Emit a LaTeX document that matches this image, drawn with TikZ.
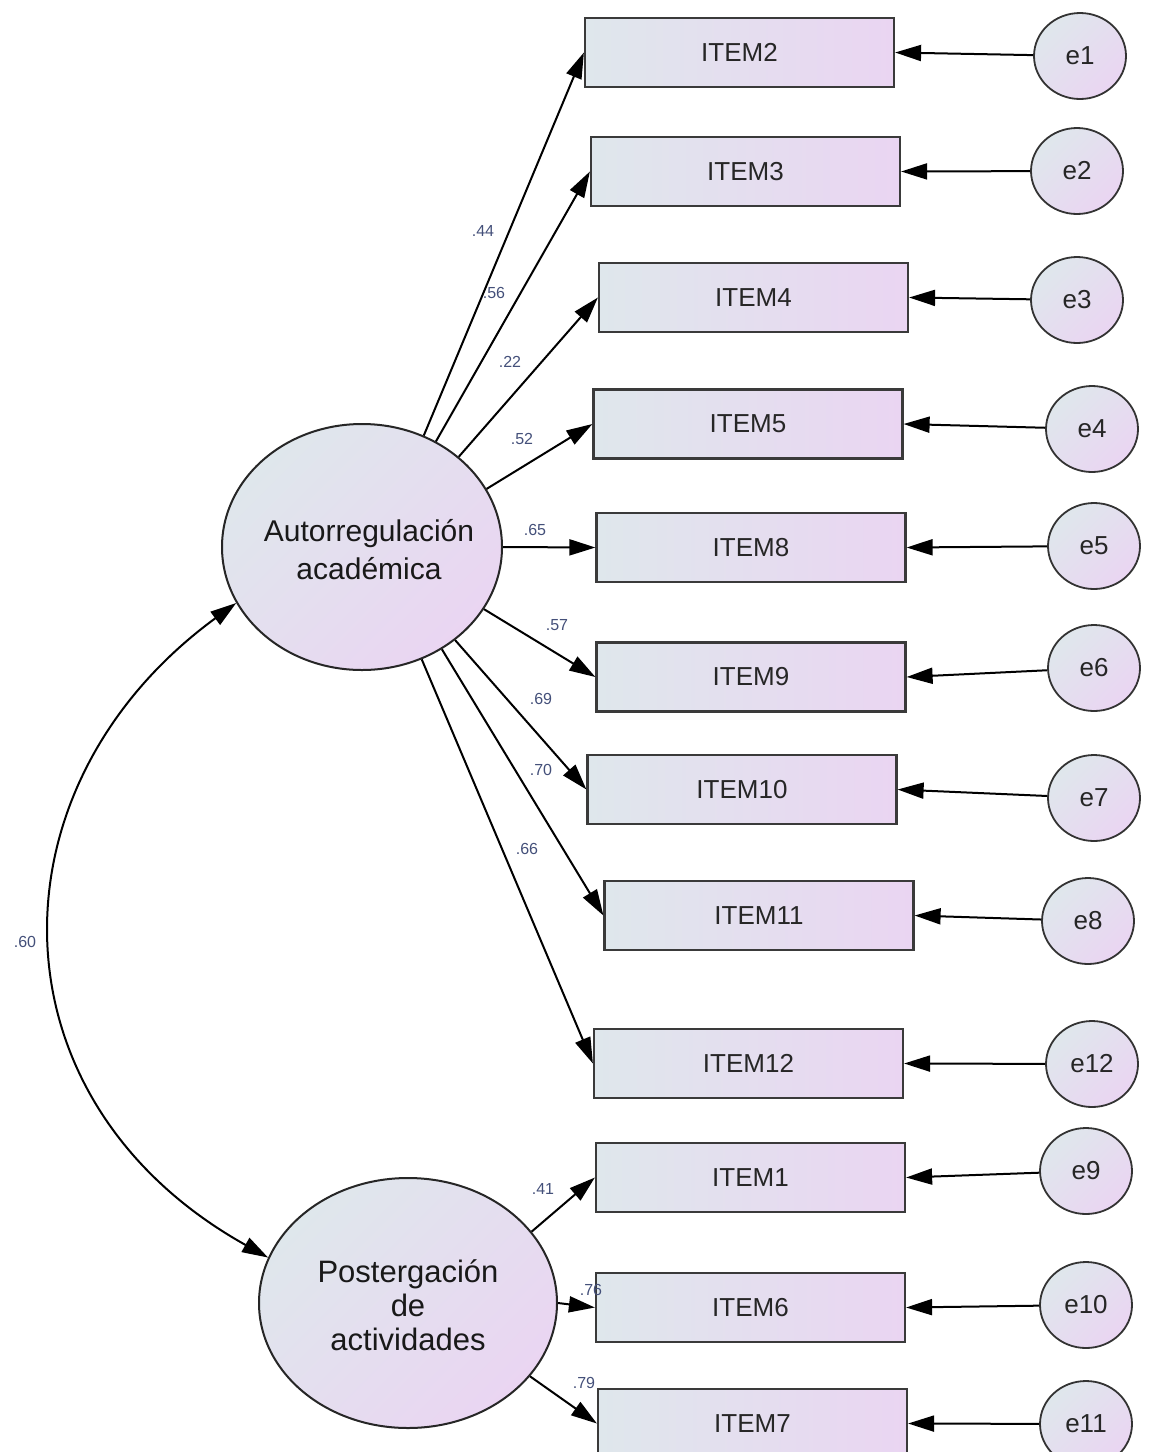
\documentclass[tikz,border=0pt]{standalone}
\usepackage{fontspec}
\setmainfont{Liberation Sans}
\usetikzlibrary{shapes.geometric,arrows.meta}
\definecolor{shL}{HTML}{DFE7EC}
\definecolor{shR}{HTML}{EAD5F2}
\definecolor{lab}{HTML}{44507A}
\definecolor{edgec}{HTML}{3A3A3A}
\begin{document}
\begin{tikzpicture}[x=0.5pt,y=-0.5pt,
 item/.style={rectangle,draw=edgec,line width=1.1pt,minimum width=154.5pt,minimum height=34.5pt,inner sep=0pt,left color=shL,right color=shR,font=\fontsize{13}{15}\selectfont,text=black!85},
 err/.style={ellipse,draw=black!80,line width=0.9pt,minimum width=46pt,minimum height=43pt,inner sep=0pt,left color=shL,right color=shR,shading angle=45,font=\fontsize{13}{15}\selectfont,text=black!85},
 lat/.style={ellipse,draw=black!85,line width=1pt,inner sep=0pt,left color=shL,right color=shR,shading angle=45,text=black!90},
 load/.style={line width=1pt,-{Triangle[length=13pt,width=8pt]}},
 lbl/.style={font=\fontsize{8}{9}\selectfont,text=lab,inner sep=0pt}]
\useasboundingbox (0,0) rectangle (1169,1452);
\clip (0,0) rectangle (1169,1452);
\fill[white] (0,0) rectangle (1169,1452);

% latent variables
\node[lat,minimum width=140pt,minimum height=123pt,font=\fontsize{15}{19}\selectfont] (A) at (362,547)
  {\smash{\makebox[0pt]{\hspace{7pt}\raisebox{-6.5pt}{\begin{tabular}{@{}c@{}}Autorregulación\\académica\end{tabular}}}}};
\node[lat,minimum width=149pt,minimum height=125pt,font=\fontsize{15.5}{17}\selectfont] (P) at (408,1303)
  {\smash{\makebox[0pt]{\raisebox{-7pt}{\begin{tabular}{@{}c@{}}Postergación\\de\\actividades\end{tabular}}}}};

% observed items
\node[item] (I2) at (739.5,52.5) {ITEM2};
\node[item] (I3) at (745.5,171.5) {ITEM3};
\node[item] (I4) at (753.5,297.5) {ITEM4};
\node[item] (I5) at (748,424) {ITEM5};
\node[item] (I8) at (751,547.5) {ITEM8};
\node[item] (I9) at (751,677) {ITEM9};
\node[item] (I10) at (742,789.5) {ITEM10};
\node[item] (I11) at (759,915.5) {ITEM11};
\node[item] (I12) at (748.5,1063.5) {ITEM12};
\node[item] (I1) at (750.5,1177.5) {ITEM1};
\node[item] (I6) at (750.5,1307.5) {ITEM6};
\node[item] (I7) at (752.5,1423.5) {ITEM7};

% errors
\node[err] (e1) at (1080,56) {e1};
\node[err] (e2) at (1077,171) {e2};
\node[err] (e3) at (1077,300) {e3};
\node[err] (e4) at (1092,429) {e4};
\node[err] (e5) at (1094,546) {e5};
\node[err] (e6) at (1094,668) {e6};
\node[err] (e7) at (1094,798) {e7};
\node[err] (e8) at (1088,921) {e8};
\node[err] (e12) at (1092,1064) {e12};
\node[err] (e9) at (1086,1171) {e9};
\node[err] (e10) at (1086,1305) {e10};
\node[err] (e11) at (1086,1424) {e11};

% loadings
\draw[load] (A.61) -- (I2.west);
\draw[load] (A.55) -- (I3.west);
\draw[load] (A.43) -- (I4.west);
\draw[load] (A.25) -- (I5.west);
\draw[load] (A.0) -- (I8.west);
\draw[load] (A.-27) -- (I9.west);
\draw[load] (A.-45) -- (I10.west);
\draw[load] (A.-52) -- (I11.west);
\draw[load] (A.-62) -- (I12.west);
\draw[load] (P.30) -- (I1.west);
\draw[load] (P.0) -- (I6.west);
\draw[load] (P.-31) -- (I7.west);

% error paths
\foreach \e/\i in {e1/I2,e2/I3,e3/I4,e4/I5,e5/I8,e6/I9,e7/I10,e8/I11,e12/I12,e9/I1,e10/I6,e11/I7}
  \draw[load] (\e) -- (\i.east);

% covariance
\draw[line width=1pt,{Triangle[length=13pt,width=8pt]}-{Triangle[length=13pt,width=8pt]}]
  (A.204) .. controls (-14,786) and (-14,1100) .. (P.162);

% labels
\node[lbl] (l44) at (483,231) {.44};
\node[lbl] (l56) at (494,293) {.56};
\node[lbl] (l22) at (510,362) {.22};
\node[lbl] (l52) at (522,439) {.52};
\node[lbl] (l65) at (535,530) {.65};
\node[lbl] (l57) at (557,625) {.57};
\node[lbl] (l69) at (541,699) {.69};
\node[lbl] (l70) at (541,770) {.70};
\node[lbl] (l66) at (527,849) {.66};
\node[lbl] (l41) at (543,1189) {.41};
\node[lbl] (l76) at (591,1290) {.76};
\node[lbl] (l79) at (584,1383) {.79};
\node[lbl] (l60) at (25,942) {.60};
\end{tikzpicture}
\end{document}
